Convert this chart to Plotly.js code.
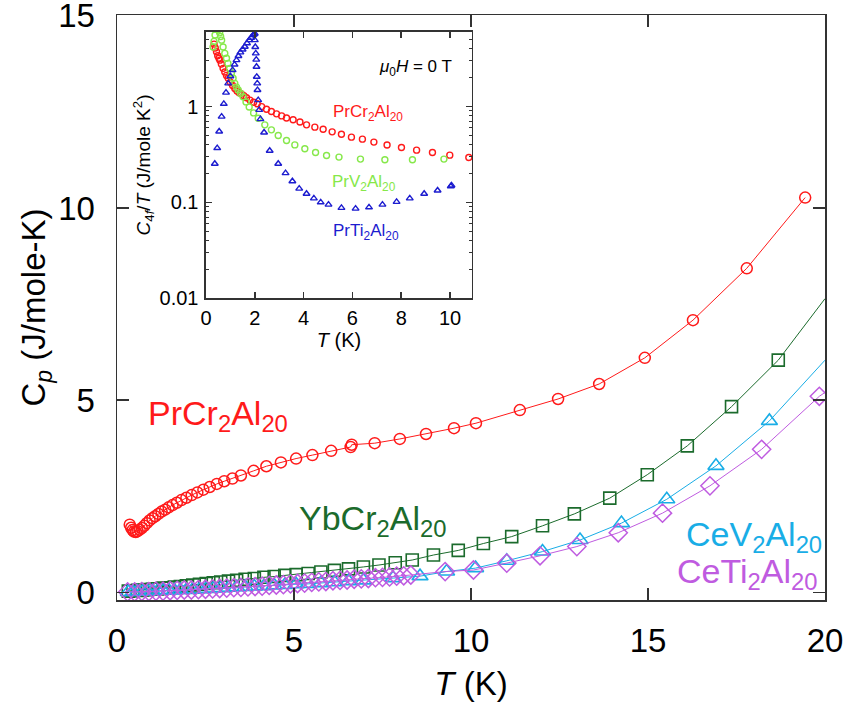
<!DOCTYPE html>
<html>
<head>
<meta charset="utf-8">
<script src="https://cdn.plot.ly/plotly-3.0.1.min.js"></script>
<style>
  html, body { margin: 0; padding: 0; background: #fff; }
  #chart { width: 848px; height: 709px; }
</style>
</head>
<body>
<div id="chart"></div>
<script>
// ---- Main panel: specific heat Cp(T) ----
const prCrT  = [0.36,0.40,0.44,0.48,0.53,0.58,0.64,0.70,0.77,0.84,0.92,1.00,1.08,1.17,1.26,1.36,1.46,1.57,1.69,1.82,1.96,2.11,2.27,2.44,2.62,2.82,3.03,3.26,3.50,3.86,4.22,4.63,5.06,5.52,6.05,6.60,6.63,7.28,7.99,8.73,9.52,10.14,11.38,12.46,13.62,14.91,16.27,17.79,19.44];
const prCrCp = [1.76,1.68,1.62,1.58,1.57,1.59,1.63,1.67,1.73,1.80,1.87,1.93,1.98,2.04,2.10,2.15,2.21,2.27,2.33,2.40,2.46,2.53,2.60,2.67,2.74,2.82,2.89,2.96,3.04,3.16,3.28,3.38,3.48,3.57,3.68,3.78,3.84,3.88,3.99,4.12,4.27,4.40,4.74,5.03,5.42,6.10,7.08,8.43,10.27];

const ybCrT  = [0.32,0.45,0.58,0.72,0.86,1.00,1.15,1.30,1.46,1.62,1.79,1.96,2.14,2.33,2.52,2.72,2.93,3.15,3.38,3.62,3.88,4.15,4.44,4.74,5.06,5.40,5.76,6.14,6.54,6.96,7.40,7.86,8.34,8.94,9.64,10.35,11.15,12.02,12.92,13.92,14.98,16.11,17.36,18.68];
const ybCrCp = [0.03,0.04,0.05,0.06,0.07,0.08,0.09,0.11,0.12,0.14,0.15,0.17,0.19,0.21,0.23,0.25,0.27,0.29,0.31,0.34,0.36,0.39,0.41,0.44,0.46,0.49,0.53,0.57,0.61,0.66,0.71,0.77,0.84,0.97,1.09,1.27,1.45,1.73,2.04,2.45,3.06,3.81,4.83,6.04];

const ceVT  = [0.32,0.45,0.58,0.72,0.86,1.00,1.15,1.30,1.46,1.62,1.79,1.96,2.14,2.33,2.52,2.72,2.93,3.15,3.38,3.62,3.88,4.15,4.44,4.74,5.06,5.40,5.76,6.14,6.54,6.96,7.80,8.56,9.31,10.13,11.01,12.02,13.08,14.25,15.53,16.92,18.43];
const ceVCp = [0.01,0.01,0.02,0.02,0.03,0.03,0.04,0.04,0.05,0.05,0.06,0.06,0.07,0.08,0.09,0.10,0.11,0.12,0.13,0.14,0.15,0.16,0.18,0.19,0.21,0.22,0.24,0.26,0.29,0.31,0.37,0.42,0.54,0.63,0.82,1.06,1.36,1.80,2.42,3.29,4.46];

const ceTiT  = [0.3,0.5,0.7,0.9,1.1,1.3,1.5,1.7,1.9,2.1,2.3,2.5,2.7,2.9,3.1,3.3,3.5,3.7,3.9,4.1,4.3,4.5,4.7,4.9,5.1,5.3,5.5,5.7,5.9,6.1,6.3,6.5,6.7,6.9,7.1,7.3,7.5,7.7,7.9,8.1,8.3,9.27,10.07,11.01,11.95,12.99,14.16,15.41,16.75,18.21,19.84];
const ceTiCp = [0.01,0.01,0.02,0.02,0.03,0.03,0.04,0.05,0.06,0.06,0.07,0.08,0.09,0.10,0.11,0.12,0.13,0.14,0.15,0.16,0.18,0.19,0.20,0.22,0.23,0.24,0.26,0.27,0.28,0.30,0.31,0.32,0.34,0.35,0.36,0.38,0.39,0.40,0.42,0.43,0.45,0.54,0.58,0.76,0.95,1.19,1.55,2.06,2.77,3.72,5.10];

// guide curves continue to the right edge of the panel
const edgeT = 20;
const ybCrEdge = 7.64;
const ceVEdge  = 6.04;
const ceTiEdge = 5.20;

// ---- Inset: C4f/T on a log scale ----
const inPrCrT = [0.33,0.38,0.43,0.48,0.53,0.57,0.63,0.70,0.77,0.84,0.91,1.00,1.09,1.18,1.27,1.36,1.45,1.55,1.66,1.80,1.95,2.10,2.28,2.48,2.68,2.89,3.10,3.30,3.57,3.85,4.12,4.46,4.80,5.17,5.55,5.96,6.41,6.88,7.42,8.01,8.63,9.28,9.99,10.77];
const inPrCrC = [4.5,4.1,3.74,3.4,3.2,3.06,2.78,2.51,2.3,2.12,1.98,1.80,1.66,1.55,1.46,1.40,1.36,1.30,1.24,1.17,1.11,1.07,1.0,0.94,0.89,0.84,0.80,0.76,0.73,0.69,0.645,0.61,0.58,0.545,0.515,0.48,0.457,0.426,0.397,0.374,0.351,0.332,0.311,0.294];

const inPrVT = [0.29,0.33,0.37,0.40,0.43,0.46,0.49,0.52,0.56,0.60,0.64,0.70,0.77,0.84,0.90,0.97,1.04,1.11,1.18,1.25,1.32,1.42,1.52,1.64,1.77,1.95,2.14,2.41,2.68,2.96,3.30,3.64,4.05,4.49,4.94,5.45,6.33,7.33,8.46,9.75];
const inPrVC = [4.2,4.8,5.6,6.5,7.0,7.0,6.8,6.4,5.9,5.4,4.95,4.2,3.6,3.2,2.83,2.5,2.23,1.98,1.75,1.6,1.49,1.37,1.27,1.12,0.99,0.86,0.757,0.645,0.572,0.5,0.443,0.398,0.363,0.332,0.309,0.297,0.283,0.279,0.279,0.283];

const inPrTiT = [0.36,0.46,0.54,0.64,0.73,0.82,0.91,1.00,1.09,1.17,1.25,1.33,1.41,1.50,1.59,1.68,1.77,1.85,1.93,1.97,2.00,2.00,2.02,2.04,2.06,2.07,2.08,2.10,2.11,2.14,2.18,2.23,2.38,2.61,2.96,3.26,3.54,3.82,4.12,4.42,4.70,5.02,5.55,6.13,6.68,7.23,7.81,8.35,8.94,9.49,10.03,10.06];
const inPrTiC = [0.253,0.369,0.55,0.787,1.07,1.4,1.75,2.08,2.41,2.75,3.06,3.38,3.69,3.95,4.22,4.6,4.95,5.25,5.58,5.7,5.8,4.95,4.2,3.6,3.1,2.61,2.05,1.75,1.49,1.17,0.924,0.74,0.537,0.346,0.253,0.202,0.166,0.139,0.123,0.11,0.1,0.0947,0.0874,0.0859,0.0887,0.0947,0.101,0.11,0.123,0.133,0.147,0.15];

const mainTicks  = [0, 5, 10, 15, 20];
const mainYTicks = [0, 5, 10, 15];
const insetXTicks = [0, 2, 4, 6, 8, 10];
const insetYTicks = [0.01, 0.1, 1];
const insetYLabels = ['0.01', '0.1', '1'];
const insetYMinor = [0.02,0.03,0.04,0.05,0.06,0.07,0.08,0.09,0.2,0.3,0.4,0.5,0.6,0.7,0.8,0.9,2,3,4,5,6];

const RED = '#ff1a1a', GREEN = '#1b6b2c', SKY = '#19ade6', PURPLE = '#bf5be0';
const LIME = '#86e84a', BLUE = '#1c1ccf';

const traces = [
  { x: ybCrT.concat([edgeT]), y: ybCrCp.concat([ybCrEdge]), mode: 'lines',
    line: { color: GREEN, width: 1 }, hoverinfo: 'skip' },
  { x: ybCrT, y: ybCrCp, mode: 'markers',
    marker: { symbol: 'square-open', size: 12, color: GREEN, line: { width: 1.6 } } },
  { x: ceVT.concat([edgeT]), y: ceVCp.concat([ceVEdge]), mode: 'lines',
    line: { color: SKY, width: 1 }, hoverinfo: 'skip' },
  { x: ceVT, y: ceVCp, mode: 'markers',
    marker: { symbol: 'triangle-up-open', size: 14, color: SKY, line: { width: 1.6 } } },
  { x: ceTiT.concat([edgeT]), y: ceTiCp.concat([ceTiEdge]), mode: 'lines',
    line: { color: PURPLE, width: 1 }, hoverinfo: 'skip' },
  { x: ceTiT, y: ceTiCp, mode: 'markers',
    marker: { symbol: 'diamond-open', size: 14, color: PURPLE, line: { width: 1.5 } } },
  { x: prCrT, y: prCrCp, mode: 'lines+markers',
    line: { color: RED, width: 1 },
    marker: { symbol: 'circle-open', size: 11, color: RED, line: { width: 1.5 } } },

  // inset
  { x: inPrCrT, y: inPrCrC, xaxis: 'x2', yaxis: 'y2', mode: 'markers',
    marker: { symbol: 'circle-open', size: 6, color: RED, line: { width: 1.4 } } },
  { x: inPrVT, y: inPrVC, xaxis: 'x2', yaxis: 'y2', mode: 'markers',
    marker: { symbol: 'circle-open', size: 6, color: LIME, line: { width: 1.4 } } },
  { x: inPrTiT, y: inPrTiC, xaxis: 'x2', yaxis: 'y2', mode: 'markers',
    marker: { symbol: 'triangle-up-open', size: 6, color: BLUE, line: { width: 1.4 } } }
];

const FONT = 'Arial, "Liberation Sans", Helvetica, sans-serif';
const frame = {
  showline: true, linecolor: '#333', linewidth: 1.5, mirror: 'ticks',
  ticks: 'inside', tickcolor: '#333', tickwidth: 1.5,
  showgrid: false, zeroline: false, ticklabeloverflow: 'allow'
};

const layout = {
  width: 848, height: 709,
  margin: { l: 117, r: 23, t: 15, b: 109 },
  paper_bgcolor: '#fff', plot_bgcolor: '#fff',
  showlegend: false,
  font: { family: FONT, color: '#000' },
  xaxis: Object.assign({}, frame, {
    domain: [0, 1], range: [0, 20], tickmode: 'array', tickvals: mainTicks,
    ticklen: 12, tickfont: { size: 33 }, ticklabelstandoff: 11,
    title: { text: '<i>T</i> (K)', font: { size: 33 }, standoff: 14 }
  }),
  yaxis: Object.assign({}, frame, {
    domain: [0, 1], range: [-0.2, 15.02], tickmode: 'array', tickvals: mainYTicks,
    ticklen: 12, tickfont: { size: 33 }, ticklabelstandoff: 14,
    title: { text: 'C<sub><i>p</i></sub> (J/mole-K)', font: { size: 33 }, standoff: 2 }
  }),
  xaxis2: Object.assign({}, frame, {
    domain: [0.1257, 0.5014], anchor: 'y2', range: [0, 10.9],
    tickmode: 'array', tickvals: insetXTicks, ticklen: 6,
    tickfont: { size: 20 }, ticklabelstandoff: 1,
    title: { text: '<i>T</i> (K)', font: { size: 20 }, standoff: 0 }
  }),
  yaxis2: Object.assign({}, frame, {
    domain: [0.5162, 0.971], anchor: 'x2', type: 'log', range: [-2, 0.78],
    tickmode: 'array', tickvals: insetYTicks, ticktext: insetYLabels, ticklen: 6,
    tickfont: { size: 20 }, ticklabelstandoff: 2,
    minor: { tickmode: 'array', tickvals: insetYMinor, ticks: 'inside', ticklen: 3, tickcolor: '#333', tickwidth: 1 },
    title: { text: '<i>C</i><sub>4<i>f</i></sub>/<i>T</i> (J/mole K<sup>2</sup>)', font: { size: 19 }, standoff: 4 }
  }),
  annotations: [
    { x: 2.85, y: 4.61, xref: 'x', yref: 'y', text: 'PrCr<sub>2</sub>Al<sub>20</sub>',
      showarrow: false, font: { size: 34, color: RED } },
    { x: 7.23, y: 1.88, xref: 'x', yref: 'y', text: 'YbCr<sub>2</sub>Al<sub>20</sub>',
      showarrow: false, font: { size: 34, color: GREEN } },
    { x: 18.0, y: 1.44, xref: 'x', yref: 'y', text: 'CeV<sub>2</sub>Al<sub>20</sub>',
      showarrow: false, font: { size: 34, color: SKY } },
    { x: 17.8, y: 0.50, xref: 'x', yref: 'y', text: 'CeTi<sub>2</sub>Al<sub>20</sub>',
      showarrow: false, font: { size: 34, color: PURPLE } },

    { x: 8.57, y: 0.40, xref: 'x2', yref: 'y2', text: '<i>μ</i><sub>0</sub><i>H</i> = 0 T',
      showarrow: false, font: { size: 17, color: '#000' } },
    { x: 6.63, y: -0.066, xref: 'x2', yref: 'y2', text: 'PrCr<sub>2</sub>Al<sub>20</sub>',
      showarrow: false, font: { size: 17, color: RED } },
    { x: 6.47, y: -0.795, xref: 'x2', yref: 'y2', text: 'PrV<sub>2</sub>Al<sub>20</sub>',
      showarrow: false, font: { size: 17, color: LIME } },
    { x: 6.56, y: -1.31, xref: 'x2', yref: 'y2', text: 'PrTi<sub>2</sub>Al<sub>20</sub>',
      showarrow: false, font: { size: 17, color: BLUE } }
  ]
};

Plotly.newPlot('chart', traces, layout, { displayModeBar: false, staticPlot: true });
</script>
</body>
</html>
